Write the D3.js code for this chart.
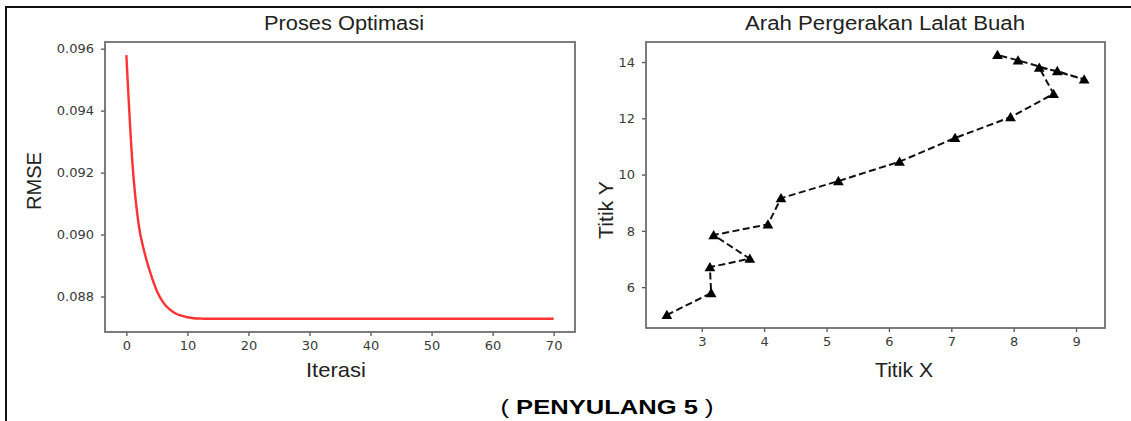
<!DOCTYPE html>
<html><head><meta charset="utf-8">
<script src="https://cdn.jsdelivr.net/npm/d3@7"></script>
<style>body{margin:0;background:#fff;overflow:hidden}</style>
</head><body><svg id="c" width="1131" height="421"></svg>
<script>
// ---- data ----
const rmseValues = [
  0.09579, 0.09228, 0.09034, 0.08940, 0.08872, 0.08818, 0.08782, 0.08760, 0.08746, 0.08738,
  0.08733, 0.08730, 0.08729, 0.08728, 0.08728, 0.08728, 0.08728, 0.08728, 0.08728, 0.08728,
  0.08728, 0.08728, 0.08728, 0.08728, 0.08728, 0.08728, 0.08728, 0.08728, 0.08728, 0.08728,
  0.08728, 0.08728, 0.08728, 0.08728, 0.08728, 0.08728, 0.08728, 0.08728, 0.08728, 0.08728,
  0.08728, 0.08728, 0.08728, 0.08728, 0.08728, 0.08728, 0.08728, 0.08728, 0.08728, 0.08728,
  0.08728, 0.08728, 0.08728, 0.08728, 0.08728, 0.08728, 0.08728, 0.08728, 0.08728, 0.08728,
  0.08728, 0.08728, 0.08728, 0.08728, 0.08728, 0.08728, 0.08728, 0.08728, 0.08728, 0.08728,
  0.08728
];
const xTicksLeft = [0, 10, 20, 30, 40, 50, 60, 70];
const yTicksLeft = [0.088, 0.090, 0.092, 0.094, 0.096];

const flyX = [2.44, 3.15, 3.13, 3.77, 3.19, 4.06, 4.27, 5.19, 6.17, 7.06, 7.95, 8.64, 8.41, 8.70, 9.13, 8.07, 7.74];
const flyY = [5.01, 5.79, 6.71, 7.01, 7.85, 8.23, 9.16, 9.77, 10.46, 11.30, 12.04, 12.87, 13.80, 13.68, 13.38, 14.06, 14.25];
const xTicksRight = [3, 4, 5, 6, 7, 8, 9];
const yTicksRight = [6, 8, 10, 12, 14];

const titleLeft = "Proses Optimasi";
const titleRight = "Arah Pergerakan Lalat Buah";
const xLabelLeft = "Iterasi", yLabelLeft = "RMSE";
const xLabelRight = "Titik X", yLabelRight = "Titik Y";

// ---- drawing ----
const svg = d3.select('#c');
svg.append('rect').attr('width', 1131).attr('height', 421).attr('fill', '#fff');
svg.append('path').attr('d', 'M6,421V7H1131').attr('fill', 'none').attr('stroke', '#111').attr('stroke-width', 2);

const labelFont = '"Liberation Sans", Arial, sans-serif';
const tickFont = '"DejaVu Sans", sans-serif';

function padDomain(ext) { const m = (ext[1] - ext[0]) * 0.05; return [ext[0] - m, ext[1] + m]; }

function styleAxis(g) {
  g.select('.domain').remove();
  g.selectAll('.tick line').attr('stroke', '#555').attr('stroke-width', 1.3);
  g.selectAll('.tick text').attr('fill', '#3a3a3a').attr('font-family', tickFont).attr('font-size', 13);
}

function frame(box) {
  svg.append('rect').attr('x', box.x0).attr('y', box.y0)
    .attr('width', box.x1 - box.x0).attr('height', box.y1 - box.y0)
    .attr('fill', 'none').attr('stroke', '#666').attr('stroke-width', 1.7);
}

function text(str, x, y, size, len, rotate) {
  const t = svg.append('text').attr('font-family', labelFont).attr('font-size', size)
    .attr('fill', '#222').attr('text-anchor', 'middle').text(str);
  if (rotate) t.attr('transform', `translate(${x},${y}) rotate(-90)`);
  else t.attr('x', x).attr('y', y);
  if (len) t.attr('textLength', len).attr('lengthAdjust', 'spacingAndGlyphs');
  return t;
}

// Left chart
const L = { x0: 105, x1: 575, y0: 42, y1: 332 };
const xL = d3.scaleLinear().domain(padDomain([0, rmseValues.length - 1])).range([L.x0, L.x1]);
const yL = d3.scaleLinear().domain(padDomain(d3.extent(rmseValues))).range([L.y1, L.y0]);

svg.append('g').attr('transform', `translate(0,${L.y1})`)
  .call(d3.axisBottom(xL).tickValues(xTicksLeft).tickSize(4).tickPadding(5).tickFormat(d3.format('d')))
  .call(styleAxis);
svg.append('g').attr('transform', `translate(${L.x0},0)`)
  .call(d3.axisLeft(yL).tickValues(yTicksLeft).tickSize(4).tickPadding(7).tickFormat(d3.format('.3f')))
  .call(styleAxis);

svg.append('path').datum(rmseValues)
  .attr('fill', 'none').attr('stroke', '#ff3333').attr('stroke-width', 2.4)
  .attr('stroke-linejoin', 'round')
  .attr('d', d3.line().x((d, i) => xL(i)).y(d => yL(d)).curve(d3.curveMonotoneX));
frame(L);

text(titleLeft, 344, 30, 20, 160);
text(xLabelLeft, 336, 377, 21, 60);
text(yLabelLeft, 41, 181, 21, 58, true);

// Right chart
const R = { x0: 646, x1: 1105, y0: 42, y1: 328 };
const xR = d3.scaleLinear().domain(padDomain(d3.extent(flyX))).range([R.x0, R.x1]);
const yR = d3.scaleLinear().domain(padDomain(d3.extent(flyY))).range([R.y1, R.y0]);

svg.append('g').attr('transform', `translate(0,${R.y1})`)
  .call(d3.axisBottom(xR).tickValues(xTicksRight).tickSize(4).tickPadding(5).tickFormat(d3.format('d')))
  .call(styleAxis);
svg.append('g').attr('transform', `translate(${R.x0},0)`)
  .call(d3.axisLeft(yR).tickValues(yTicksRight).tickSize(4).tickPadding(7).tickFormat(d3.format('d')))
  .call(styleAxis);

const pts = flyX.map((x, i) => [x, flyY[i]]);
svg.append('path').datum(pts)
  .attr('fill', 'none').attr('stroke', '#111').attr('stroke-width', 2)
  .attr('stroke-dasharray', '7,3.5')
  .attr('d', d3.line().x(d => xR(d[0])).y(d => yR(d[1])));
svg.append('g').selectAll('path').data(pts).join('path')
  .attr('transform', d => `translate(${xR(d[0])},${yR(d[1]) + 1})`)
  .attr('d', d3.symbol().type(d3.symbolTriangle).size(50))
  .attr('fill', '#000');
frame(R);

text(titleRight, 885, 30, 20, 280);
text(xLabelRight, 904, 377, 21, 58);
text(yLabelRight, 613, 210, 21, 58, true);

// Caption
const cap = svg.append('text').attr('x', 607).attr('y', 414).attr('text-anchor', 'middle')
  .attr('font-family', labelFont).attr('font-size', 19.5).attr('fill', '#000')
  .attr('textLength', 213).attr('lengthAdjust', 'spacingAndGlyphs');
cap.append('tspan').text('( ');
cap.append('tspan').attr('font-weight', 'bold').text('PENYULANG 5');
cap.append('tspan').text(' )');
</script>
</body></html>
